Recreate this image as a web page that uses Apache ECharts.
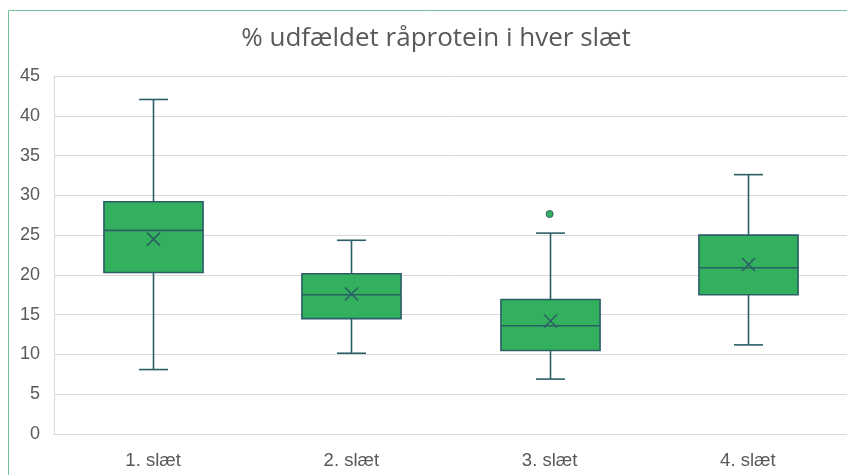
<!DOCTYPE html>
<html>
<head>
<meta charset="utf-8">
<script src="https://cdn.jsdelivr.net/npm/echarts@6/dist/echarts.min.js"></script>
<style>html,body{margin:0;padding:0;background:#fff}#c{width:847px;height:475px}</style>
</head>
<body>
<div id="c"></div>
<script>
const titleText = '% udfældet råprotein i hver slæt';
const categories = ['1. slæt', '2. slæt', '3. slæt', '4. slæt'];
const mins    = [8.1, 10.15, 6.9, 11.2];
const q1s     = [20.3, 14.5, 10.5, 17.5];
const medians = [25.6, 17.5, 13.6, 20.9];
const q3s     = [29.2, 20.15, 16.9, 25.0];
const maxs    = [42.05, 24.35, 25.25, 32.6];
const means   = [24.5, 17.6, 14.2, 21.3];
const outliers = [[2, 27.65]];
const yTicks = [0, 5, 10, 15, 20, 25, 30, 35, 40, 45];

const fillC = '#32b05d';
const lineC = '#2b5e66';
const labelC = '#595959';

const boxData = categories.map((c, i) => [i, mins[i], q1s[i], medians[i], q3s[i], maxs[i], means[i]]);

const chart = echarts.init(document.getElementById('c'), null, {renderer: 'canvas'});
chart.setOption({
  animation: false,
  graphic: [{
    type: 'rect', z: -10,
    shape: {x: 8.5, y: 10.5, width: 900, height: 520},
    style: {fill: 'none', stroke: '#74c197', lineWidth: 1}
  }],
  title: {
    text: titleText, left: 431, top: 21, textAlign: 'center',
    textStyle: {fontFamily: 'Open Sans', fontSize: 26, fontWeight: 'normal', color: labelC}
  },
  grid: {left: 54, right: -3, top: 76, bottom: 41, containLabel: false},
  xAxis: {
    type: 'category', data: categories, boundaryGap: true,
    axisLine: {show: true, lineStyle: {color: '#d9d9d9'}},
    axisTick: {show: false},
    axisLabel: {color: labelC, fontFamily: 'Liberation Sans', fontSize: 18.5, margin: 17}
  },
  yAxis: {
    type: 'value', min: yTicks[0], max: yTicks[yTicks.length - 1], interval: 5,
    axisLine: {show: true, lineStyle: {color: '#d9d9d9'}},
    axisTick: {show: false},
    splitLine: {lineStyle: {color: '#d9d9d9', width: 1}},
    axisLabel: {color: labelC, fontFamily: 'Liberation Sans', fontSize: 18, margin: 14}
  },
  series: [{
    type: 'custom',
    encode: {x: 0, y: [1, 2, 3, 4, 5]},
    data: boxData,
    renderItem: function (params, api) {
      const xi = api.value(0);
      const band = api.size([1, 0])[0];
      const hw = band * 0.25;
      const cw = band * 0.073;
      const pMin = api.coord([xi, api.value(1)]);
      const pQ1 = api.coord([xi, api.value(2)]);
      const pMed = api.coord([xi, api.value(3)]);
      const pQ3 = api.coord([xi, api.value(4)]);
      const pMax = api.coord([xi, api.value(5)]);
      const pMean = api.coord([xi, api.value(6)]);
      const cx = Math.round(pMed[0]) + 0.5;
      const ls = {stroke: lineC, lineWidth: 1.6};
      const m = 6.5;
      return {
        type: 'group',
        children: [
          {type: 'line', shape: {x1: cx, y1: pMax[1], x2: cx, y2: pQ3[1]}, style: ls},
          {type: 'line', shape: {x1: cx, y1: pQ1[1], x2: cx, y2: pMin[1]}, style: ls},
          {type: 'line', shape: {x1: cx - cw, y1: pMax[1], x2: cx + cw, y2: pMax[1]}, style: ls},
          {type: 'line', shape: {x1: cx - cw, y1: pMin[1], x2: cx + cw, y2: pMin[1]}, style: ls},
          {type: 'rect', shape: {x: cx - hw, y: pQ3[1], width: 2 * hw, height: pQ1[1] - pQ3[1]},
            style: {fill: fillC, stroke: lineC, lineWidth: 1.6}},
          {type: 'line', shape: {x1: cx - hw, y1: pMed[1], x2: cx + hw, y2: pMed[1]}, style: ls},
          {type: 'line', shape: {x1: cx - m, y1: pMean[1] - m, x2: cx + m, y2: pMean[1] + m}, style: ls},
          {type: 'line', shape: {x1: cx - m, y1: pMean[1] + m, x2: cx + m, y2: pMean[1] - m}, style: ls}
        ]
      };
    }
  }, {
    type: 'scatter',
    data: outliers,
    symbol: 'circle', symbolSize: 7,
    itemStyle: {color: fillC, opacity: 1, borderColor: lineC, borderWidth: 1}
  }]
});
</script>
</body>
</html>
